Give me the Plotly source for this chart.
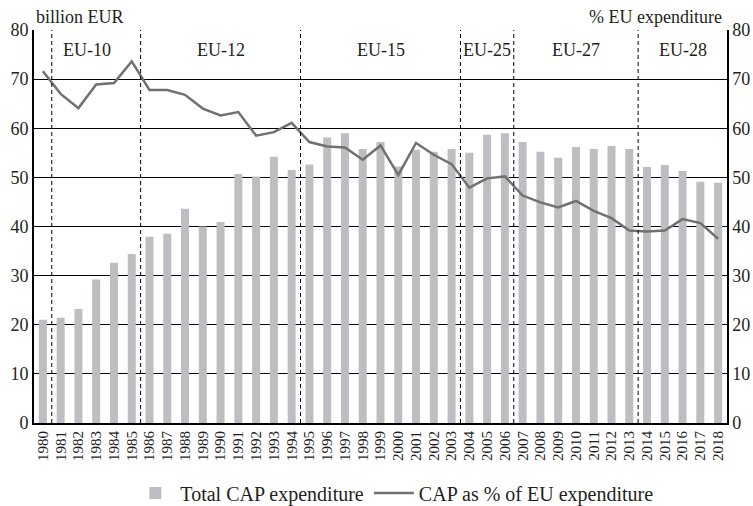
import plotly.graph_objects as go

years = list(range(1980, 2019))
cap_total = [21.0, 21.4, 23.2, 29.2, 32.6, 34.4, 37.9, 38.5, 43.6, 40.0,
             40.9, 50.7, 50.2, 54.2, 51.5, 52.6, 58.1, 59.0, 55.8, 57.2,
             52.2, 55.6, 55.2, 55.8, 55.0, 58.7, 59.0, 57.2, 55.2, 54.0,
             56.2, 55.8, 56.4, 55.8, 52.1, 52.5, 51.3, 49.1, 48.9]
cap_share = [71.6, 67.0, 64.1, 68.9, 69.2, 73.6, 67.8, 67.8, 66.8, 64.0,
             62.6, 63.3, 58.5, 59.2, 61.1, 57.2, 56.3, 56.1, 53.6, 56.5,
             50.5, 57.0, 54.6, 52.7, 47.9, 49.8, 50.2, 46.3, 44.9, 43.9,
             45.2, 43.2, 41.7, 39.2, 39.0, 39.2, 41.5, 40.7, 37.5]
boundary_years = [1981, 1986, 1995, 2004, 2007, 2014]
region_labels = ["EU-10", "EU-12", "EU-15", "EU-25", "EU-27", "EU-28"]
region_spans = [(1980, 1985), (1986, 1994), (1995, 2003), (2004, 2006), (2007, 2013), (2014, 2018)]
y_ticks = [0, 10, 20, 30, 40, 50, 60, 70, 80]

FONT = "Liberation Serif"
TXT = "#231f20"

fig = go.Figure()
fig.add_trace(go.Bar(x=years, y=cap_total, name="Total CAP expenditure",
                     marker=dict(color="#bdbec2", line=dict(width=0)), width=0.45))
fig.add_trace(go.Scatter(x=years, y=cap_share, name="CAP as % of EU expenditure",
                         mode="lines", line=dict(color="#717171", width=2.5),
                         yaxis="y2"))

for b in boundary_years:
    fig.add_shape(type="line", xref="x", yref="y", x0=b - 0.5, x1=b - 0.5, y0=0, y1=80,
                  line=dict(color="black", width=1, dash="4px,3px"), layer="above")

for lab, (a, b) in zip(region_labels, region_spans):
    fig.add_annotation(x=(a + b) / 2, y=76, xref="x", yref="y", text=lab,
                       showarrow=False, font=dict(family=FONT, size=18, color=TXT))

fig.add_annotation(x=0, y=1.0, xref="paper", yref="paper", xanchor="left", yanchor="bottom",
                   yshift=1, text="billion EUR", showarrow=False,
                   font=dict(family=FONT, size=18, color=TXT))
fig.add_annotation(x=0.995, y=1.0, xref="paper", yref="paper", xanchor="right", yanchor="bottom",
                   yshift=1, text="% EU expenditure", showarrow=False,
                   font=dict(family=FONT, size=18, color=TXT))

fig.update_layout(
    template="none",
    width=753, height=506,
    margin=dict(l=34, r=26, t=30, b=83, autoexpand=False),
    paper_bgcolor="white", plot_bgcolor="white",
    font=dict(family=FONT, size=18, color=TXT),
    showlegend=True,
    legend=dict(orientation="h", x=0.52, xanchor="center", y=-0.178, yanchor="middle",
                font=dict(family=FONT, size=20, color=TXT), itemwidth=40,
                bgcolor="rgba(0,0,0,0)"),
    xaxis=dict(range=[1979.5, 2018.5], tickmode="array", tickvals=years,
               ticktext=[str(y) for y in years], tickangle=-90, automargin=False,
               tickfont=dict(family=FONT, size=15, color=TXT),
               showgrid=False, zeroline=False, showline=True, linecolor="black",
               linewidth=2, ticks=""),
    yaxis=dict(range=[0, 80], tickvals=y_ticks, showgrid=True, gridcolor="black",
               gridwidth=1, zeroline=False, showline=True, linecolor="black",
               linewidth=2, ticks="", automargin=False,
               tickfont=dict(family=FONT, size=18, color=TXT)),
    yaxis2=dict(range=[0, 80], tickvals=y_ticks, overlaying="y", side="right",
                showgrid=False, zeroline=False, showline=True, linecolor="black",
                linewidth=1.5, ticks="", automargin=False,
                tickfont=dict(family=FONT, size=18, color=TXT)),
)

fig.write_html("out.html", config={"displayModeBar": False},
               post_script="document.body.style.margin='0px';document.body.style.padding='0px';document.body.style.overflow='hidden';")
